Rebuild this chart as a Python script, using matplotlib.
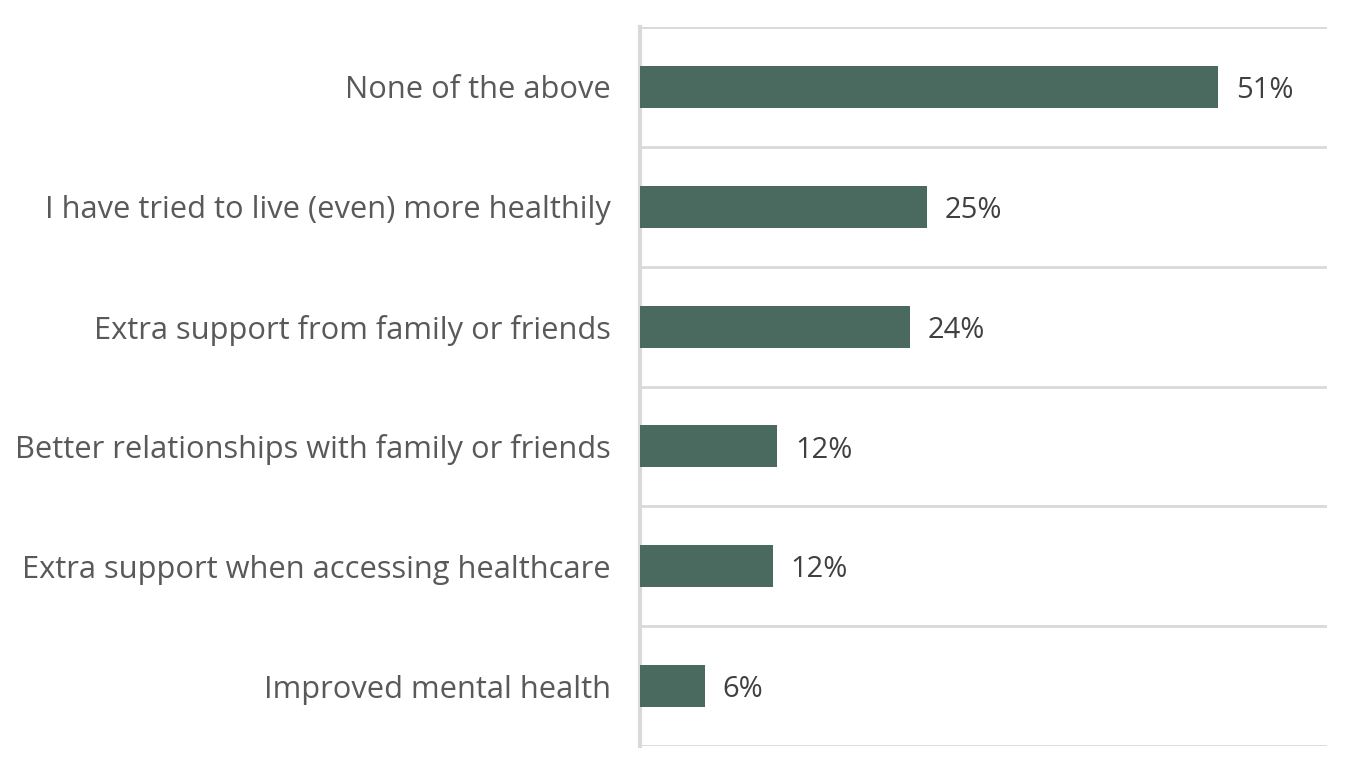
import matplotlib
matplotlib.use("Agg")
import matplotlib.pyplot as plt

categories = [
    "None of the above",
    "I have tried to live (even) more healthily",
    "Extra support from family or friends",
    "Better relationships with family or friends",
    "Extra support when accessing healthcare",
    "Improved mental health",
]
values = [51.0, 25.3, 23.8, 12.1, 11.7, 5.7]
labels = ["51%", "25%", "24%", "12%", "12%", "6%"]

BAR_COLOR = "#4a6a60"
GRID_COLOR = "#d9d9d9"

plt.rcParams["font.family"] = ["Open Sans", "DejaVu Sans"]

fig = plt.figure(figsize=(13.48, 7.66), dpi=100)
ax = fig.add_axes([640 / 1348, 1 - 746 / 766, (1327 - 640) / 1348, (746 - 27) / 766])

n = len(categories)
ypos = list(range(n))
ax.barh(ypos, values, height=0.35, color=BAR_COLOR, zorder=3)

for y, v, lab in zip(ypos, values, labels):
    ax.text(v + 1.6, y + 0.03, lab, va="center", ha="left", fontsize=21, color="#404040")

ax.set_ylim(n - 0.5, -0.5)
ax.set_xlim(0, 60.6)
ax.set_yticks(ypos)
ax.set_yticklabels(categories, fontsize=22.2, color="#595959")
ax.tick_params(axis="y", length=0, pad=21)
ax.set_xticks([])

# category boundary lines
for b in [i - 0.5 for i in range(n + 1)]:
    ax.axhline(b, color=GRID_COLOR, lw=2, zorder=1)

for side in ["top", "right", "bottom"]:
    ax.spines[side].set_visible(False)
ax.spines["left"].set_color(GRID_COLOR)
ax.spines["left"].set_linewidth(3)

fig.savefig("out.png", dpi=100)
